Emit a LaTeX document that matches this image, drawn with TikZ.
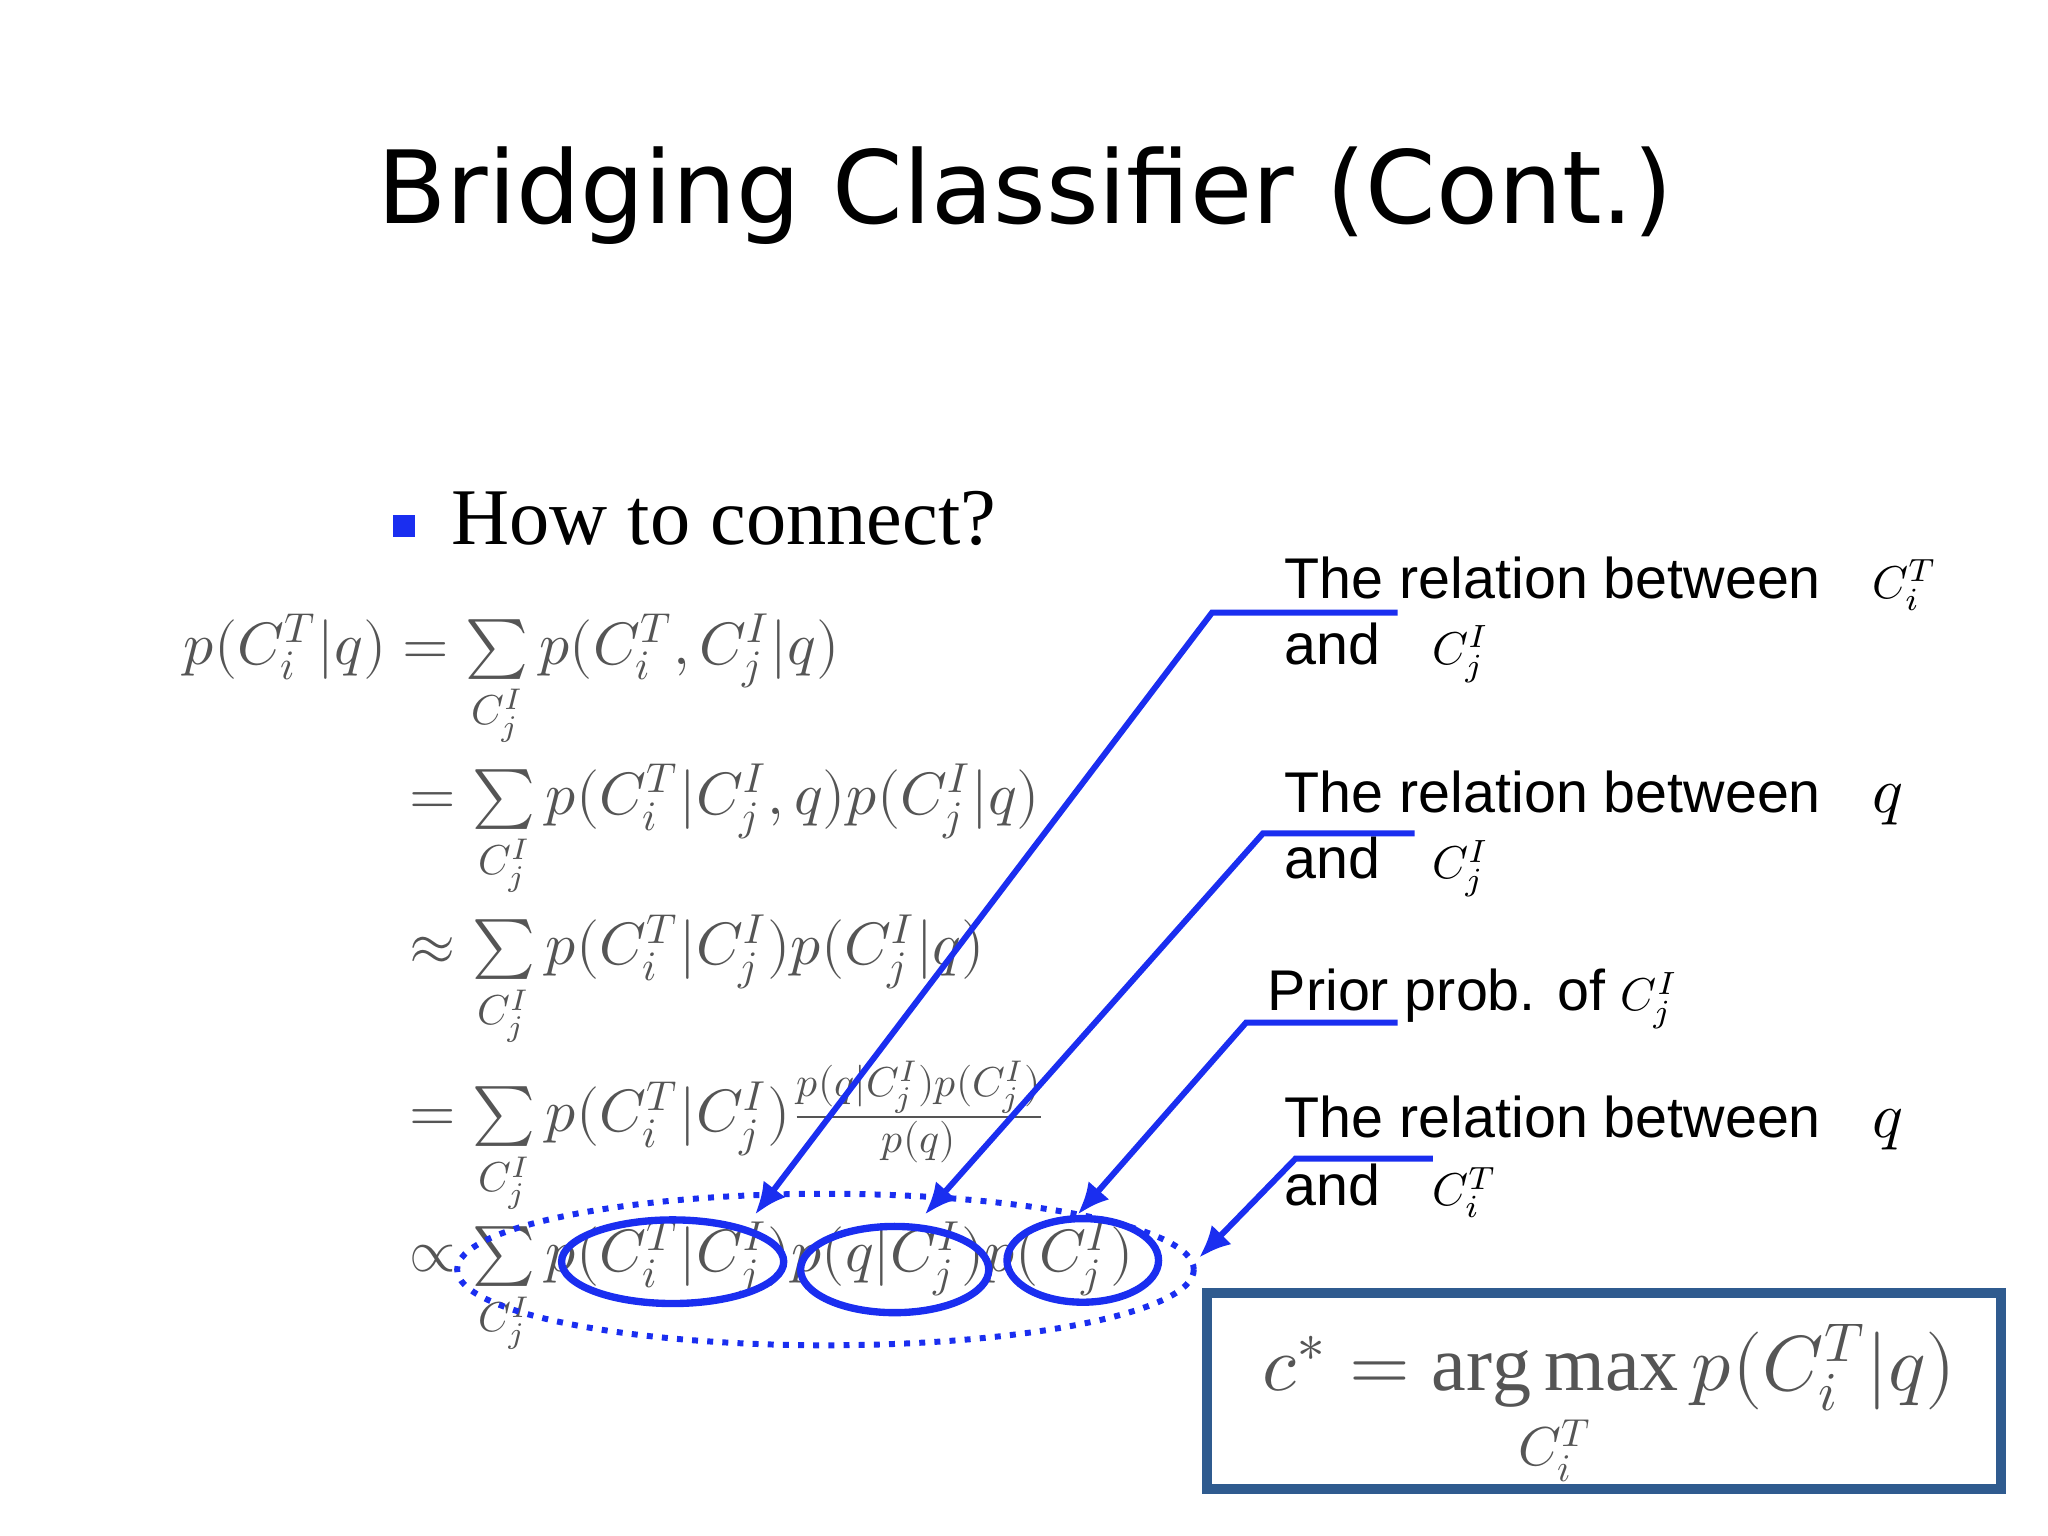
\documentclass[tikz,border=0pt]{standalone}
\usepackage{amsmath}
\usepackage{fontspec}
\newfontfamily\lab{Liberation Sans}
\newfontfamily\ttl{DejaVu Sans}
\setmainfont{Liberation Serif}
\usepackage{unicode-math}
\setmathfont{Latin Modern Math}
\definecolor{bl}{HTML}{1A2EF0}
\definecolor{bx}{HTML}{2F5B8F}
\definecolor{eq}{HTML}{555555}
\usetikzlibrary{arrows.meta,shapes.geometric}
\newcommand{\sm}[1]{{\fontsize{10}{12}\selectfont$#1$}}
\tikzset{lbl/.style={anchor=west,font=\lab\fontsize{12.5}{15}\selectfont,inner sep=0},
 eqn/.style={anchor=west,text=eq,font=\fontsize{13}{16}\selectfont,inner sep=0},
 arr/.style={draw=bl,line width=1.3pt,-{Latex[length=7pt,width=6pt]}},
 ell/.style={draw=bl,line width=1.6pt}}
\begin{document}
\begin{tikzpicture}[x=0.01cm,y=-0.01cm]
\useasboundingbox (0,0) rectangle (1568,1176);
\node (title) at (785,150) {\ttl\fontsize{22}{26}\selectfont Bridging Classifier (Cont.)};
\fill[bl] (301,394) rectangle (318,411);
\node[anchor=west,inner sep=0] (how) at (345,397) {\fontsize{17.5}{21}\selectfont How to connect?};
\node[eqn] (e1) at (140,522) {$p(C_i^T|q)=\sum\limits_{C_j^I}p(C_i^T,C_j^I|q)$};
\node[eqn] (e2) at (313,637) {$=\sum\limits_{C_j^I}p(C_i^T|C_j^I,q)p(C_j^I|q)$};
\node[eqn] (e3) at (313,752) {$\approx\sum\limits_{C_j^I}p(C_i^T|C_j^I)p(C_j^I|q)$};
\node[eqn] (e4) at (313,872) {$=\sum\limits_{C_j^I}p(C_i^T|C_j^I)\frac{p(q|C_j^I)p(C_j^I)}{p(q)}$};
\node[eqn] (e5) at (313,987) {$\propto\sum\limits_{C_j^I}p(C_i^T|C_j^I)p(q|C_j^I)p(C_j^I)$};
\draw[bl,line width=1.3pt,dotted] (632,972) ellipse (282 and 58);
\node[ell,ellipse,minimum width=1.7cm,minimum height=0.64cm,inner sep=0] (o1) at (515,966) {};
\node[ell,ellipse,minimum width=1.44cm,minimum height=0.66cm,inner sep=0] (o2) at (685,972) {};
\node[ell,ellipse,minimum width=1.16cm,minimum height=0.64cm,inner sep=0] (o3) at (829,965) {};
\node[lbl] (l1) at (983,447) {The relation between\hspace{0.9em}\sm{C_i^T}};
\node[lbl] (l1b) at (983,500) {and\hspace{0.9em}\sm{C_j^I}};
\node[lbl] (l2) at (983,611) {The relation between\hspace{0.9em}{\fontsize{14}{16}\selectfont$q$}};
\node[lbl] (l2b) at (983,664) {and\hspace{0.9em}\sm{C_j^I}};
\node[lbl] (l3) at (970,765) {Prior prob. of \sm{C_j^I}};
\node[lbl] (l4) at (983,860) {The relation between\hspace{0.9em}{\fontsize{14}{16}\selectfont$q$}};
\node[lbl] (l4b) at (983,912) {and\hspace{0.9em}\sm{C_i^T}};
\coordinate (a1) at (1070,469); \coordinate (b1) at (928,469); \coordinate (t1) at (578,930);
\coordinate (a2) at (1083,638); \coordinate (b2) at (967,638); \coordinate (t2) at (708,930);
\coordinate (a3) at (1070,783); \coordinate (b3) at (954,783); \coordinate (t3) at (825,930);
\coordinate (a4) at (1097,887); \coordinate (b4) at (992,887); \coordinate (t4) at (918,963);
\draw[arr] (a1)--(b1)--(t1);
\draw[arr] (a2)--(b2)--(t2);
\draw[arr] (a3)--(b3)--(t3);
\draw[arr] (a4)--(b4)--(t4);
\node[draw=bx,line width=2.2pt,minimum width=6.08cm,minimum height=1.5cm,inner sep=0] (box) at (1228,1065) {};
\node[text=eq,font=\fontsize{17}{20}\selectfont] (f) at (1232,1078) {$c^*=\operatorname*{arg\,max}\limits_{C_i^T}p(C_i^T|q)$};
\end{tikzpicture}
\end{document}
